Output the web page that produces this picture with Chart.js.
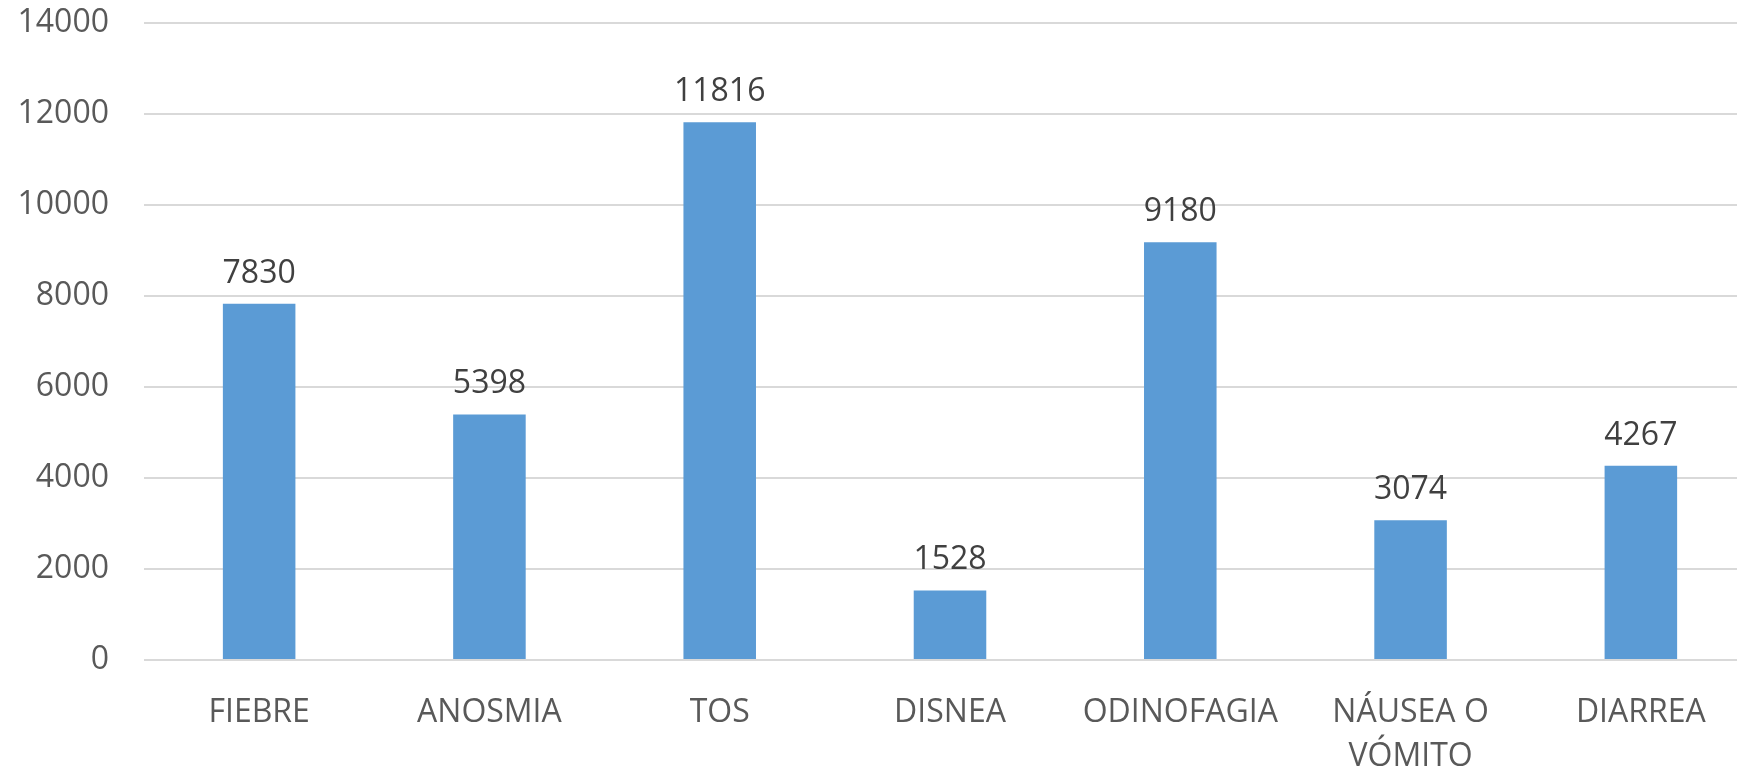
<!DOCTYPE html>
<html>
<head>
<meta charset="utf-8">
<script src="https://cdn.jsdelivr.net/npm/chart.js@4/dist/chart.umd.min.js"></script>
<style>
  html, body { margin: 0; padding: 0; background: #fff; overflow: hidden; }
  #wrap { width: 1737px; height: 769px; overflow: hidden; }
  canvas { display: block; }
</style>
</head>
<body>
<div id="wrap"><canvas id="c" width="1756" height="769"></canvas></div>
<script>
const categories = ["FIEBRE", "ANOSMIA", "TOS", "DISNEA", "ODINOFAGIA", ["NÁUSEA O", "VÓMITO"], "DIARREA"];
const values = [7830, 5398, 11816, 1528, 9180, 3074, 4267];
const yTicks = [0, 2000, 4000, 6000, 8000, 10000, 12000, 14000];

const FONT = "'Open Sans', 'Liberation Sans', sans-serif";

const valueLabels = {
  id: 'valueLabels',
  afterDatasetsDraw(chart) {
    const ctx = chart.ctx;
    const meta = chart.getDatasetMeta(0);
    ctx.save();
    ctx.font = "32px " + FONT;
    ctx.fillStyle = '#404040';
    ctx.textAlign = 'center';
    ctx.textBaseline = 'alphabetic';
    meta.data.forEach((bar, i) => {
      ctx.fillText(String(chart.data.datasets[0].data[i]), bar.x, bar.y - 21);
    });
    ctx.restore();
  }
};

new Chart(document.getElementById('c'), {
  type: 'bar',
  data: {
    labels: categories,
    datasets: [{
      data: values,
      backgroundColor: '#5b9bd5',
      borderWidth: 0,
      barPercentage: 0.63,
      categoryPercentage: 0.5
    }]
  },
  options: {
    responsive: false,
    animation: false,
    devicePixelRatio: 1,
    layout: { padding: { top: 0, right: 0, bottom: 0, left: 0 } },
    plugins: { legend: { display: false }, tooltip: { enabled: false } },
    scales: {
      x: {
        grid: { display: false },
        border: { display: false },
        ticks: {
          color: '#595959',
          font: { family: FONT, size: 32, lineHeight: 1.4 },
          padding: 22,
          maxRotation: 0,
          autoSkip: false
        },
        afterFit(scale) { scale.height = 109; }
      },
      y: {
        min: 0,
        max: 14000,
        afterBuildTicks(scale) { scale.ticks = yTicks.map(v => ({ value: v })); },
        grid: { color: '#d9d9d9', lineWidth: 2, drawTicks: false },
        border: { display: false },
        ticks: {
          color: '#595959',
          font: { family: FONT, size: 32 },
          padding: 35,
          callback: (v) => String(v)
        },
        afterFit(scale) { scale.width = 144; scale.paddingTop = 23; }
      }
    }
  },
  plugins: [valueLabels]
});
</script>
</body>
</html>
